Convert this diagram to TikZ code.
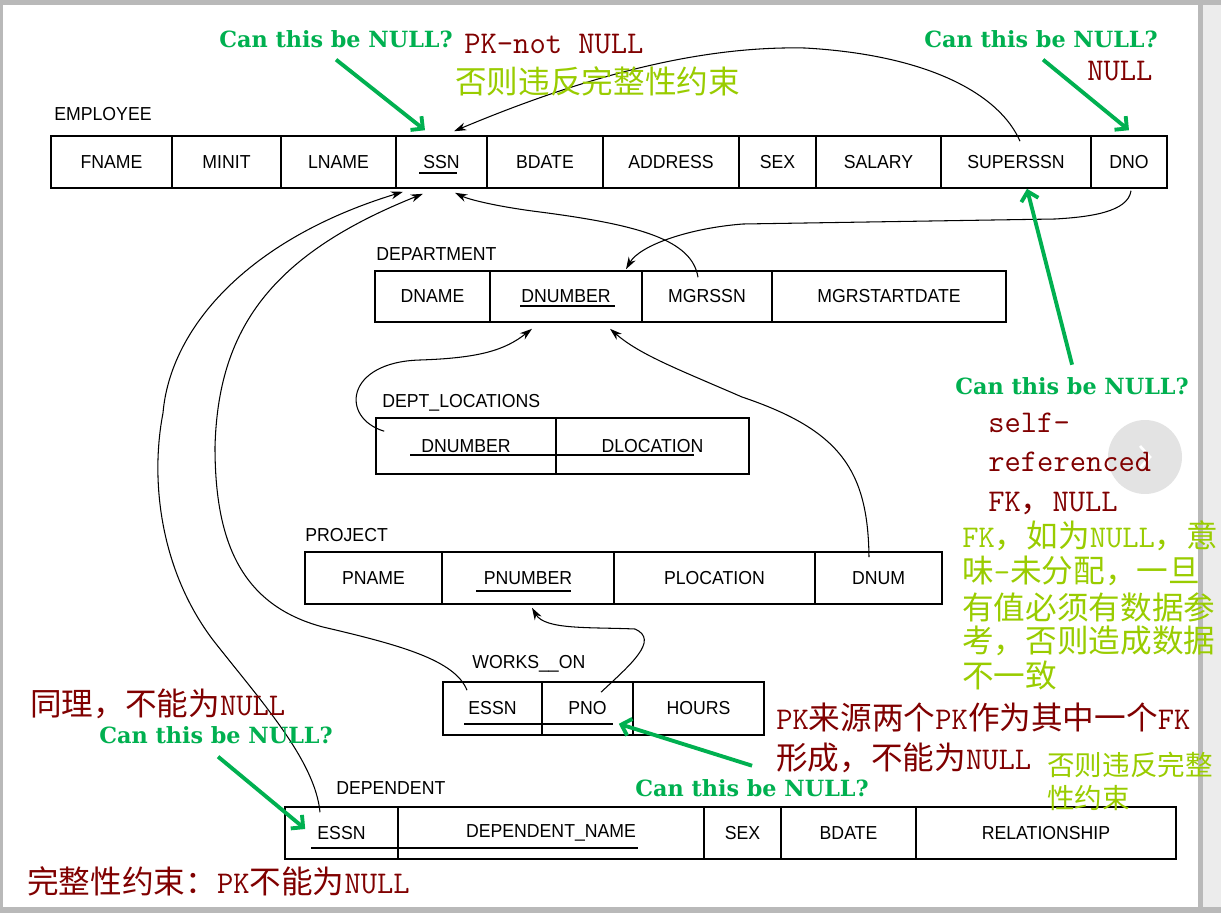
\documentclass[tikz,border=0pt]{standalone}
\usepackage{fontspec}
\newfontfamily\tabfont[FakeStretch=0.94]{Liberation Sans}
\newfontfamily\cjk{Noto Sans CJK SC}
\newfontfamily\fragefont{DejaVu Serif}
\usetikzlibrary{arrows.meta,calc}
\definecolor{gruen}{RGB}{0,176,80}
\definecolor{rot}{RGB}{128,0,0}
\definecolor{hellgruen}{RGB}{153,204,0}
\newcommand{\zh}[1]{{\cjk #1}}
\tikzset{
  zelle/.style={draw, line width=0.9pt, rectangle, inner sep=0pt, minimum height=1.04cm,
    font=\tabfont\fontsize{10.7}{12}\selectfont},
  titel/.style={anchor=base west, inner sep=0pt, font=\tabfont\fontsize{10.7}{12}\selectfont},
  fk/.style={-{Stealth[length=7pt,width=4.5pt]}, line width=0.6pt},
  frage/.style={anchor=base west, inner sep=0pt, text=gruen, font=\fragefont\bfseries\fontsize{12.7}{15}\selectfont},
  pfeil/.style={-{Straight Barb[length=5pt,width=10pt]}, gruen, line width=2.2pt},
  notiz/.style={anchor=base west, inner sep=0pt, text=rot, font=\ttfamily\fontsize{18}{20}\selectfont},
  hinweis/.style={anchor=base west, inner sep=0pt, text=hellgruen, font=\ttfamily\fontsize{18}{20}\selectfont},
}
\begin{document}
\begin{tikzpicture}[x=0.02cm, y=-0.02cm]
        \useasboundingbox (0,0) rectangle (1221,913);
        % Rahmen
        \fill[gray!55] (0,0) rectangle (1221,913);
        \fill[white] (3,5) rectangle (1198,907);
        \fill[gray!15] (1203,5) rectangle (1221,907);
        \fill[gray!22] (1145,457) circle [radius=0.74cm];
        \draw[white, line width=1.5pt] (1140,446) -- (1150,457) -- (1140,468);

        % EMPLOYEE
        \node[titel] (t1) at (54,120) {EMPLOYEE};
        \node[zelle, minimum width=2.42cm] (fname) at (111.5,162) {FNAME};
        \node[zelle, minimum width=2.18cm] (minit) at (226.5,162) {MINIT};
        \node[zelle, minimum width=2.30cm] (lname) at (338.5,162) {LNAME};
        \node[zelle, minimum width=1.82cm] (ssn) at (441.5,162) {SSN};
        \node[zelle, minimum width=2.32cm] (bdate) at (545,162) {BDATE};
        \node[zelle, minimum width=2.72cm] (address) at (671,162) {ADDRESS};
        \node[zelle, minimum width=1.54cm] (sex) at (777.5,162) {SEX};
        \node[zelle, minimum width=2.50cm] (salary) at (878.5,162) {SALARY};
        \node[zelle, minimum width=3.00cm] (superssn) at (1016,162) {SUPERSSN};
        \node[zelle, minimum width=1.52cm] (dno) at (1129,162) {DNO};
        \draw[line width=0.7pt] (419,173) -- (457,173);

        % DEPARTMENT
        \node[titel] (t2) at (376,260) {DEPARTMENT};
        \node[zelle, minimum width=2.30cm, minimum height=1.02cm] (dname) at (432.5,296.5) {DNAME};
        \node[zelle, minimum width=3.04cm, minimum height=1.02cm] (dnumber) at (566,296.5) {DNUMBER};
        \node[zelle, minimum width=2.60cm, minimum height=1.02cm] (mgrssn) at (707,296.5) {MGRSSN};
        \node[zelle, minimum width=4.68cm, minimum height=1.02cm] (mgrstart) at (889,296.5) {MGRSTARTDATE};
        \draw[line width=0.7pt] (520,306) -- (615,306);

        % DEPT_LOCATIONS
        \node[titel] (t3) at (382,407) {DEPT\_LOCATIONS};
        \node[zelle, minimum width=3.60cm, minimum height=1.12cm] (dl_dnumber) at (466,446) {DNUMBER};
        \node[zelle, minimum width=3.86cm, minimum height=1.12cm] (dl_dlocation) at (652.5,446) {DLOCATION};
        \draw[line width=0.7pt] (410,455) -- (694,455);

        % PROJECT
        \node[titel] (t4) at (305,541) {PROJECT};
        \node[zelle, minimum width=2.74cm] (pname) at (373.5,578) {PNAME};
        \node[zelle, minimum width=3.44cm] (pnumber) at (528,578) {PNUMBER};
        \node[zelle, minimum width=4.02cm] (plocation) at (714.5,578) {PLOCATION};
        \node[zelle, minimum width=2.54cm] (dnum) at (878.5,578) {DNUM};
        \draw[line width=0.7pt] (476,591) -- (571,591);

        % WORKS_ON
        \node[titel] (t5) at (472,668) {WORKS\_\_ON};
        \node[zelle, minimum width=1.98cm, minimum height=1.06cm] (w_essn) at (492.5,708.5) {ESSN};
        \node[zelle, minimum width=1.82cm, minimum height=1.06cm] (w_pno) at (587.5,708.5) {PNO};
        \node[zelle, minimum width=2.62cm, minimum height=1.06cm] (w_hours) at (698.5,708.5) {HOURS};
        \draw[line width=0.7pt] (464,724) -- (613,724);

        % DEPENDENT
        \node[titel] (t6) at (336,794) {DEPENDENT};
        \node[zelle, minimum width=2.26cm] (d_essn) at (341.5,833) {ESSN};
        \node[zelle, minimum width=6.12cm] (d_name) at (551,833) {DEPENDENT\_NAME};
        \node[zelle, minimum width=1.54cm] (d_sex) at (742.5,833) {SEX};
        \node[zelle, minimum width=2.70cm] (d_bdate) at (848.5,833) {BDATE};
        \node[zelle, minimum width=5.20cm] (d_rel) at (1046,833) {RELATIONSHIP};
        \draw[line width=0.7pt] (311,848) -- (638,848);

        % Fremdschluessel
        \draw[fk] ($(superssn.north)+(4,6)$) .. controls (1000,95) and (930,55) .. (805,48)
              .. controls (710,46) and (600,70) .. ($(ssn.north)+(12.5,-4)$);
        \draw[fk] ($(dno.south)+(2,2)$) .. controls (1128,212) and (1090,217) .. (1055,219)
              -- (743,224) .. controls (690,228) and (640,245) .. ($(dnumber.north)+(60,-1)$);
        \draw[fk] ($(mgrssn.north)+(-9,7)$) .. controls (692,240) and (640,225) .. (540,212)
              .. controls (500,207) and (470,200) .. ($(ssn.south)+(13.5,4)$);
        \draw[fk] ($(d_essn.north)+(-21.5,6)$) .. controls (315,760) and (260,700) .. (213,640)
              .. controls (160,570) and (150,480) .. (163,413)
              .. controls (170,330) and (245,240) .. ($(ssn.south)+(-38.5,3)$);
        \draw[fk] ($(w_essn.north)+(-25.5,9)$) .. controls (455,660) and (400,645) .. (323,627)
              .. controls (240,605) and (215,540) .. (215,447)
              .. controls (218,330) and (270,255) .. ($(ssn.south)+(-18.5,5)$);
        \draw[fk] ($(dl_dnumber.north west)+(9,14)$) .. controls (340,418) and (345,362) .. (420,360)
              .. controls (480,358) and (505,350) .. ($(dnumber.south)+(-34,6)$);
        \draw[fk] ($(dnum.north)+(-9.5,6)$) .. controls (868,470) and (840,430) .. (742,397)
              .. controls (680,370) and (640,355) .. ($(dnumber.south)+(44,6)$);
        \draw[fk] ($(w_pno.north)+(13.5,11)$) .. controls (630,665) and (660,640) .. (635,629)
              .. controls (590,627) and (545,630) .. ($(pnumber.south)+(4,3)$);

        % Fragen
        \node[frage] (q1) at (219,47) {Can this be NULL?};
        \node[frage] (q2) at (924,47) {Can this be NULL?};
        \node[frage] (q3) at (955,394) {Can this be NULL?};
        \node[frage] (q4) at (99,743) {Can this be NULL?};
        \node[frage] (q5) at (635,796) {Can this be NULL?};
        \draw[pfeil] ($(q1.south)+(0,12)$) -- ($(ssn.north)+(-16.5,-5)$);
        \draw[pfeil] ($(q2.south)+(2,12)$) -- ($(dno.north)+(0,-5)$);
        \draw[pfeil] ($(q3.north)+(0,-12)$) -- ($(superssn.south)+(11,0)$);
        \draw[pfeil] ($(q4.south)+(2,13)$) -- ($(d_essn.west)+(21,-4)$);
        \draw[pfeil] ($(q5.north)+(0,-13)$) -- ($(w_pno.south east)+(-15,-12)$);

        % Notizen
        \node[notiz] (n1) at (464,53) {PK-not NULL};
        \node[notiz] (n2) at (1087,80) {NULL};
        \node[notiz] (n3) at (988,432) {self-};
        \node[notiz] (n4) at (988,471) {referenced};
        \node[notiz] (n5) at (988,511) {FK\zh{，}NULL};
        \node[notiz] (n6) at (30,715) {\zh{同理，不能为}NULL};
        \node[notiz] (n7) at (776,729) {PK\zh{来源两个}PK\zh{作为其中一个}FK};
        \node[notiz] (n8) at (776,769) {\zh{形成，不能为}NULL};
        \node[notiz] (n9) at (27,893) {\zh{完整性约束：}PK\zh{不能为}NULL};

        \node[hinweis] (h0) at (455,93) {\zh{否则违反完整性约束}};
        \node[hinweis] (h1) at (962,547) {FK\zh{，如为}NULL\zh{，意}};
        \node[hinweis] (h2) at (962,582) {\zh{味}-\zh{未分配，一旦}};
        \node[hinweis] (h3) at (962,619) {\zh{有值必须有数据参}};
        \node[hinweis] (h4) at (962,652) {\zh{考，否则造成数据}};
        \node[hinweis] (h5) at (962,687) {\zh{不一致}};
        \node[hinweis, font=\ttfamily\fontsize{15.7}{18}\selectfont] (h6) at (1047,775) {\zh{否则违反完整}};
        \node[hinweis, font=\ttfamily\fontsize{15.7}{18}\selectfont] (h7) at (1047,808) {\zh{性约束}};
\end{tikzpicture}
\end{document}
